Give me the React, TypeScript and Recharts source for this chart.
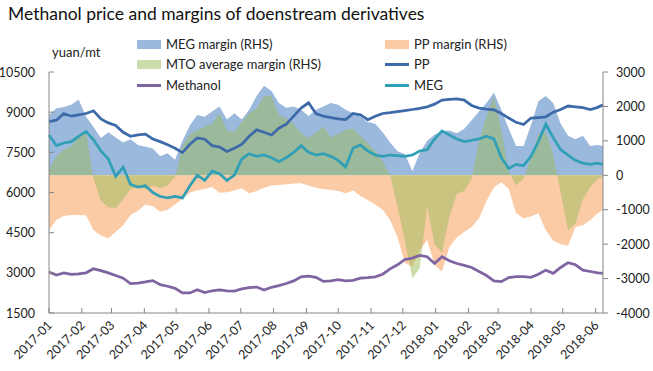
import { ComposedChart, Area, Line, XAxis, YAxis } from 'recharts';

const monthTicks = [0, 31, 59, 90, 120, 151, 181, 212, 243, 273, 304, 334, 365, 396, 424, 455, 485, 516];
const monthLabels = [
  '2017-01', '2017-02', '2017-03', '2017-04', '2017-05', '2017-06', '2017-07', '2017-08', '2017-09',
  '2017-10', '2017-11', '2017-12', '2018-01', '2018-02', '2018-03', '2018-04', '2018-05', '2018-06',
];

// weekly sample points, days since 2017-01-01, last one ~2018-06-08
const days = Array.from({ length: 75 }, (_, i) => i * 7).concat([523]);

const ppPrice = [
  8650, 8700, 8950, 8850, 8900, 8950, 9050, 8750, 8600, 8500, 8250, 8100, 8150, 8180, 8000, 7900,
  7780, 7650, 7490, 7800, 8040, 7990, 7750, 7700, 7530, 7650, 7800, 8100, 8340, 8250, 8150, 8400,
  8550, 8850, 9150, 9350, 8950, 8850, 8800, 8750, 8720, 8950, 8900, 8720, 8850, 8950, 8980, 9020,
  9060, 9100, 9140, 9200, 9300, 9450, 9480, 9500, 9450, 9250, 9150, 9110, 9090, 8950, 8780, 8620,
  8540, 8780, 8800, 8820, 9000, 9100, 9230, 9200, 9170, 9100, 9180, 9280,
];
const megPrice = [
  8150, 7750, 7850, 7900, 8100, 8280, 7970, 7550, 7250, 6600, 6950, 6300, 6200, 6250, 6000, 5850,
  5800, 5850, 5800, 6250, 6650, 6450, 6800, 6700, 6450, 6650, 7250, 7450, 7350, 7400, 7300, 7150,
  7300, 7500, 7750, 7500, 7400, 7450, 7350, 7200, 6950, 7650, 7780, 7550, 7400, 7350, 7400, 7380,
  7350, 7400, 7550, 7600, 8000, 8300, 8150, 8000, 7900, 7950, 8000, 8100, 8000, 7300, 6900, 7050,
  7000, 7350, 7900, 8550, 8050, 7600, 7400, 7200, 7100, 7050, 7100, 7050,
];
const methanolPrice = [
  3030, 2920, 3000, 2940, 2960, 3000, 3150, 3080, 3000, 2900, 2800, 2600, 2620, 2660, 2710, 2560,
  2500, 2420, 2250, 2250, 2370, 2260, 2330, 2360, 2330, 2320, 2400, 2450, 2470, 2360, 2460, 2520,
  2600, 2700, 2850, 2880, 2830, 2680, 2700, 2750, 2700, 2720, 2800, 2820, 2850, 2950, 3150, 3300,
  3500, 3550, 3650, 3600, 3350, 3600, 3450, 3350, 3280, 3200, 3050, 2900, 2700, 2670, 2820, 2860,
  2860, 2830, 2950, 3100, 2980, 3200, 3380, 3300, 3100, 3050, 3000, 2980,
];
const megMargin = [
  1750, 1950, 1980, 2050, 2200, 1700, 1400, 1080, 1250, 1100, 950, 1050, 880, 830, 780, 550,
  640, 450, 1000, 1450, 1750, 1700, 1850, 2000, 1620, 1800, 1620, 1900, 2300, 2600, 2450, 2100,
  1960, 2000, 1900, 1720, 1900, 2000, 2100, 2050, 1900, 1800, 1700, 1550, 1500, 1250, 950, 700,
  620, 120, 650, 1000, 1180, 1280, 1300, 1220, 1350, 1600, 1850, 2100, 2400, 1900, 1350, 850,
  850, 1450, 2150, 2300, 2100, 1500, 1150, 1050, 1150, 850, 880, 850,
];
const ppMargin = [
  -1600, -1300, -1180, -1150, -1150, -1160, -1600, -1750, -1830, -1650, -1450, -1150, -1030, -850, -900, -1060,
  -1000, -850, -680, -500, -440, -400, -340, -510, -490, -440, -380, -520, -460, -360, -300, -280,
  -260, -240, -230, -300, -360, -400, -430, -460, -520, -440, -600, -720, -850, -1000, -1300, -1800,
  -2550, -2650, -2180, -1880, -2600, -2800, -2080, -1800, -1650, -1500, -1250, -750, -350, -200, -400, -1100,
  -1250, -1200, -1100, -1600, -1900, -2000, -2050, -1500, -1450, -1300, -1100, -1000,
];
const mtoMargin = [
  150, 550, 740, 850, 1100, 1250, -100, -750, -930, -950, -700, -400, -350, -400, -300, -380,
  -300, -50, 850, 1200, 1300, 1420, 1500, 1800, 1300, 1250, 1550, 1800, 1950, 2300, 2300, 1750,
  1650, 1500, 1230, 1080, 1230, 1420, 1100, 1200, 1320, 1350, 1150, 930, 700, 400, 0, -900,
  -1900, -3000, -2700, -900, -2000, -2250, -1200, -550, -450, -100, 1000, 1700, 2300, 1300, 100, -300,
  -100, 500, 1200, 1250, 600, -500, -1600, -1400, -700, -350, -100, -50,
];

const leftTicks = [1500, 3000, 4500, 6000, 7500, 9000, 10500];
const rightTicks = [-4000, -3000, -2000, -1000, 0, 1000, 2000, 3000];

const data = days.map((d, i) => ({
  day: d,
  pp: ppPrice[i],
  meg: megPrice[i],
  methanol: methanolPrice[i],
  megMargin: megMargin[i],
  ppMargin: ppMargin[i],
  mto: mtoMargin[i],
}));

const FONT = 'Lato, "Open Sans", sans-serif';
const AXIS = '#868686';

function LeftTick(props: any) {
  const { x, y, payload } = props;
  return (
    <g>
      <line x1={x} x2={x + 5} y1={y} y2={y} stroke={AXIS} />
      <text x={x - 14} y={y} dy={4.5} textAnchor="end" fontSize={12.5} fill="#222" fontFamily={FONT}>
        {payload.value}
      </text>
    </g>
  );
}

function RightTick(props: any) {
  const { x, y, payload } = props;
  return (
    <g>
      <line x1={x} x2={x + 5} y1={y} y2={y} stroke={AXIS} />
      <text x={x + 13} y={y} dy={4.5} textAnchor="start" fontSize={12.5} fill="#222" fontFamily={FONT}>
        {payload.value}
      </text>
    </g>
  );
}

function BottomTick(props: any) {
  const { x, y, payload } = props;
  const idx = monthTicks.indexOf(payload.value);
  const tx = x + 4;
  const ty = y + 13;
  return (
    <g>
      <line x1={x} x2={x} y1={y} y2={y - 5} stroke={AXIS} />
      <text
        x={tx}
        y={ty}
        textAnchor="end"
        fontSize={12.5}
        fill="#222"
        fontFamily={FONT}
        transform={`rotate(-45 ${tx} ${ty})`}
      >
        {monthLabels[idx]}
      </text>
    </g>
  );
}

const legendItems = [
  { label: 'MEG margin (RHS)', color: '#9bb8dd', kind: 'area', x: 137, y: 44 },
  { label: 'PP margin (RHS)', color: '#fbcba6', kind: 'area', x: 385, y: 44 },
  { label: 'MTO average margin (RHS)', color: '#cddcac', kind: 'area', x: 137, y: 64 },
  { label: 'PP', color: '#3d6aa8', kind: 'line', x: 385, y: 64 },
  { label: 'Methanol', color: '#8064a2', kind: 'line', x: 137, y: 85 },
  { label: 'MEG', color: '#31a0b6', kind: 'line', x: 385, y: 85 },
];

export default function App() {
  return (
    <div style={{ position: 'relative', width: 653, height: 371, background: '#fff', fontFamily: FONT }}>
      <style>{`body{margin:0}`}</style>
      <div style={{ position: 'absolute', left: 8, top: 3, fontSize: 17.5, color: '#111', whiteSpace: 'nowrap' }}>
        Methanol price and margins of doenstream derivatives
      </div>
      <div style={{ position: 'absolute', left: 52, top: 44, fontSize: 13, color: '#222' }}>yuan/mt</div>
      {legendItems.map((it) => (
        <div key={it.label} style={{ position: 'absolute', left: it.x, top: it.y - 9, height: 18, display: 'flex', alignItems: 'center', fontSize: 13, color: '#222', whiteSpace: 'nowrap' }}>
          <span
            style={{
              display: 'inline-block',
              width: 24,
              height: it.kind === 'area' ? 9 : 3,
              background: it.color,
              marginRight: 5,
            }}
          />
          {it.label}
        </div>
      ))}
      <div style={{ position: 'absolute', left: 0, top: 0 }}>
        <ComposedChart width={653} height={371} data={data} margin={{ top: 72, right: 0, bottom: 0, left: 0 }}>
          <XAxis
            dataKey="day"
            type="number"
            domain={[0, 523]}
            ticks={monthTicks}
            tick={<BottomTick />}
            tickSize={0}
            tickMargin={0}
            tickLine={false}
            axisLine={{ stroke: AXIS }}
            height={58}
            interval={0}
          />
          <YAxis
            yAxisId="left"
            domain={[1500, 10500]}
            ticks={leftTicks}
            tick={<LeftTick />}
            tickSize={0}
            tickMargin={0}
            tickLine={false}
            axisLine={{ stroke: AXIS }}
            width={49}
            interval={0}
          />
          <YAxis
            yAxisId="right"
            orientation="right"
            domain={[-4000, 3000]}
            ticks={rightTicks}
            tick={<RightTick />}
            tickSize={0}
            tickMargin={0}
            tickLine={false}
            axisLine={{ stroke: AXIS }}
            width={50}
            interval={0}
          />
          <Area yAxisId="right" type="linear" dataKey="megMargin" baseValue={0} stroke="none" fill="#9bb8dd" fillOpacity={1} isAnimationActive={false} />
          <Area yAxisId="right" type="linear" dataKey="ppMargin" baseValue={0} stroke="none" fill="#fbcba6" fillOpacity={1} isAnimationActive={false} />
          <Area yAxisId="right" type="linear" dataKey="mto" baseValue={0} stroke="none" fill="#9bbb59" fillOpacity={0.5} isAnimationActive={false} />
          <Line yAxisId="left" type="linear" dataKey="pp" stroke="#3d6aa8" strokeWidth={2.75} dot={false} isAnimationActive={false} />
          <Line yAxisId="left" type="linear" dataKey="methanol" stroke="#8064a2" strokeWidth={2.75} dot={false} isAnimationActive={false} />
          <Line yAxisId="left" type="linear" dataKey="meg" stroke="#31a0b6" strokeWidth={2.75} dot={false} isAnimationActive={false} />
        </ComposedChart>
      </div>
    </div>
  );
}
